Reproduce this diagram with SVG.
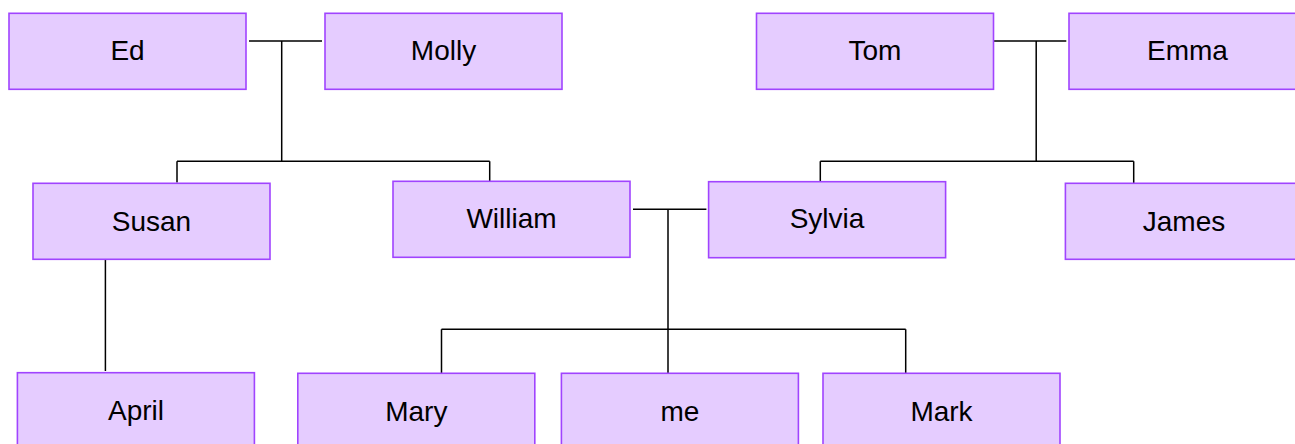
<svg xmlns="http://www.w3.org/2000/svg" width="1295" height="444" viewBox="0 0 1295 444">
<style>
.box{fill:#e5ccff;stroke:#a044ff;stroke-width:1.6}
.lbl{font-family:"Liberation Sans",Arial,sans-serif;font-size:28px;fill:#000;text-anchor:middle}
.c{fill:none;stroke:#000;stroke-width:1.5}
</style>
<rect width="1295" height="444" fill="#fff"/>
<g id="connectors">
<path class="c" d="M249,41H322M281.7,41V161.3M177,161.3H489.7M177,161.3V182.5M489.7,161.3V181.5"/>
<path class="c" d="M994,41H1066.3M1036.2,41V161.3M820.3,161.3H1133.7M820.3,161.3V181.5M1133.7,161.3V183"/>
<path class="c" d="M105.4,256.7V371"/>
<path class="c" d="M633,209.3H706.4M668,209.3V374M441.5,329.3H905.7M441.5,329.3V374M905.7,329.3V374"/>
</g>
<g id="ed"><rect class="box" x="9" y="13.3" width="237" height="76"/><text class="lbl" x="127.5" y="60.3">Ed</text></g>
<g id="molly"><rect class="box" x="325" y="13.3" width="237" height="76"/><text class="lbl" x="443.5" y="60.3">Molly</text></g>
<g id="tom"><rect class="box" x="756.5" y="13.3" width="237" height="76"/><text class="lbl" x="875" y="60.3">Tom</text></g>
<g id="emma"><rect class="box" x="1069" y="13.3" width="237" height="76"/><text class="lbl" x="1187.5" y="60.3">Emma</text></g>
<g id="susan"><rect class="box" x="33" y="183.3" width="237" height="76"/><text class="lbl" x="151.5" y="231">Susan</text></g>
<g id="william"><rect class="box" x="393" y="181.3" width="237" height="76"/><text class="lbl" x="511.5" y="228">William</text></g>
<g id="sylvia"><rect class="box" x="708.6" y="181.7" width="237" height="76"/><text class="lbl" x="827" y="228">Sylvia</text></g>
<g id="james"><rect class="box" x="1065.4" y="183.3" width="237" height="76"/><text class="lbl" x="1184" y="230.5">James</text></g>
<g id="april"><rect class="box" x="17.4" y="372.7" width="237" height="76"/><text class="lbl" x="136" y="420">April</text></g>
<g id="mary"><rect class="box" x="297.8" y="373.3" width="237" height="76"/><text class="lbl" x="416.3" y="420.5">Mary</text></g>
<g id="me"><rect class="box" x="561.4" y="373.3" width="237" height="76"/><text class="lbl" x="680" y="420.5">me</text></g>
<g id="mark"><rect class="box" x="823" y="373.3" width="237" height="76"/><text class="lbl" x="941.5" y="420.5">Mark</text></g>
</svg>
